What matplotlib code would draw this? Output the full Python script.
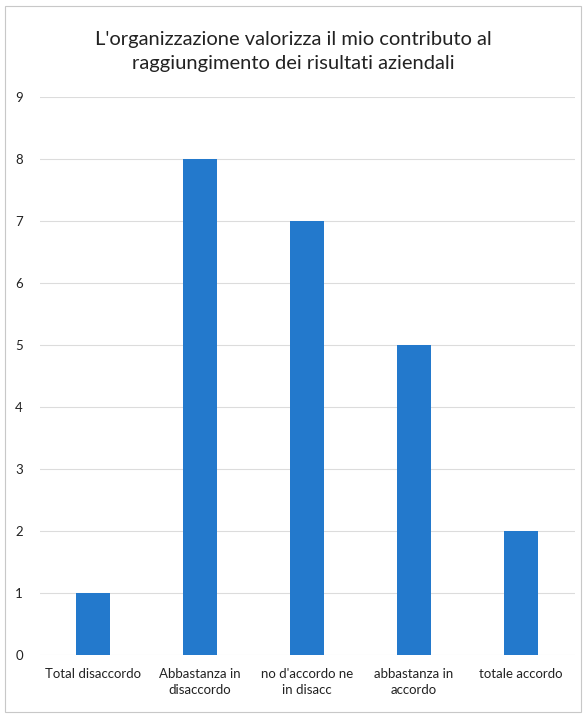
import matplotlib.pyplot as plt
from matplotlib.patches import Rectangle

categorie = ["Total disaccordo", "Abbastanza in\ndisaccordo", "no d'accordo ne\nin disacc",
             "abbastanza in\naccordo", "totale accordo"]
valori = [1, 8, 7, 5, 2]
tick_y = list(range(0, 10))
titolo = "L'organizzazione valorizza il mio contributo al\nraggiungimento dei risultati aziendali"

plt.rcParams["font.family"] = ["Lato", "DejaVu Sans"]

fig = plt.figure(figsize=(5.86, 7.17), dpi=100)
ax = fig.add_axes([39.5 / 586, 62 / 717, 535 / 586, 558 / 717])

ax.bar(range(len(categorie)), valori, width=0.31, color="#2379cc", zorder=3)
ax.set_xlim(-0.5, len(categorie) - 0.5)
ax.set_ylim(0, 9)
ax.set_yticks(tick_y)
ax.set_xticks(range(len(categorie)))
ax.set_xticklabels(categorie, fontsize=9.5, color="#222222", linespacing=1.5)
ax.tick_params(axis="y", labelsize=9.5, labelcolor="#222222", length=0, pad=12)
ax.tick_params(axis="x", length=0, pad=9)
ax.grid(axis="y", color="#dcdcdc", linewidth=0.8, zorder=0)
for s in ax.spines.values():
    s.set_visible(False)

fig.text(0.5, 0.928, titolo, ha="center", va="center", fontsize=14.5,
         color="#222222", linespacing=1.45)

# cornice del grafico
fig.add_artist(Rectangle((5 / 586, 5 / 717), 576 / 586, 706 / 717, transform=fig.transFigure,
                         fill=False, edgecolor="#c8c8c8", linewidth=0.8))

fig.savefig("out.png", dpi=100)
